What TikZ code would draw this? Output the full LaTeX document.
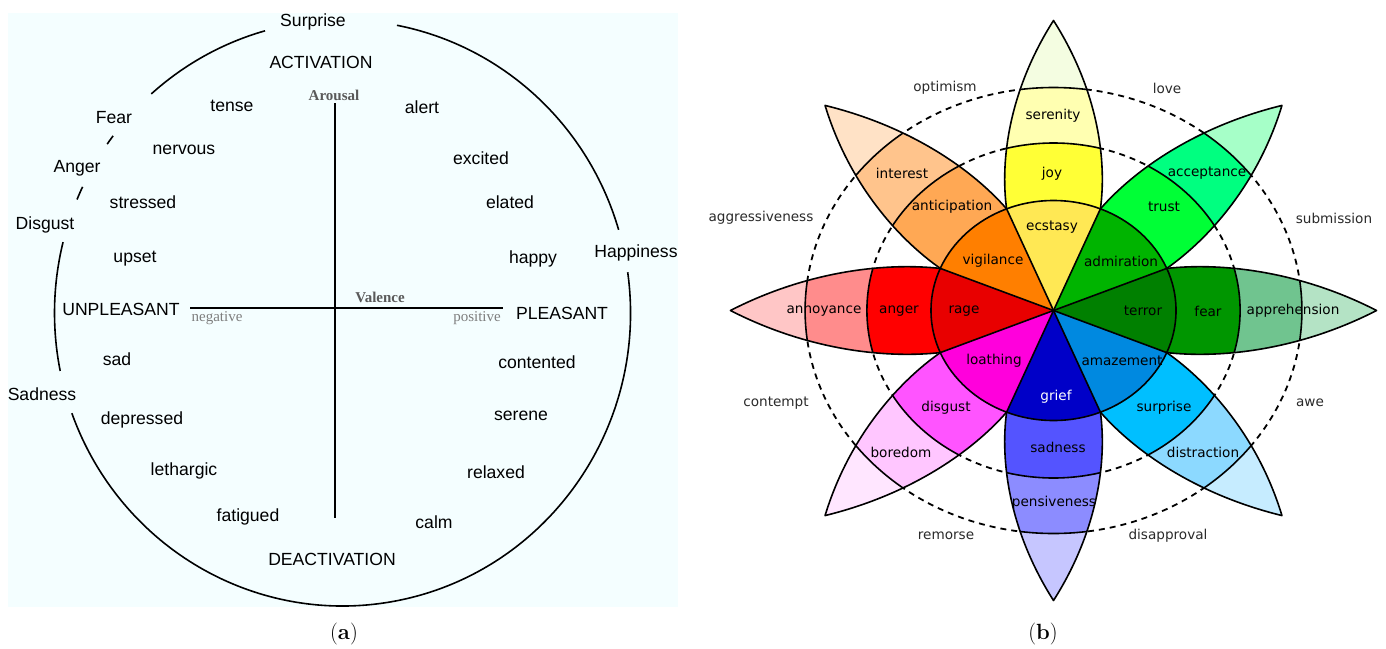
\documentclass[tikz,border=0pt]{standalone}
\usepackage{fontspec}
\newfontfamily\armfont{Liberation Sans}
\newfontfamily\sgfont{Liberation Serif}
\newfontfamily\wheelfont{DejaVu Sans}
\definecolor{bgA}{HTML}{F4FEFF}
\definecolor{axgray}{HTML}{5A5A5A}
\definecolor{lightgray}{HTML}{7E7E7E}
\definecolor{outtxt}{HTML}{2A2A2A}
% petal colours: sector / ring2 / ring3 / tip
\definecolor{pAa}{HTML}{FFE854}\definecolor{pAb}{HTML}{FFFF36}\definecolor{pAc}{HTML}{FFFFB1}\definecolor{pAd}{HTML}{F4FDE1}
\definecolor{pBa}{HTML}{00B400}\definecolor{pBb}{HTML}{00FF36}\definecolor{pBc}{HTML}{00FF80}\definecolor{pBd}{HTML}{A6FFC8}
\definecolor{pCa}{HTML}{008000}\definecolor{pCb}{HTML}{009600}\definecolor{pCc}{HTML}{70C48F}\definecolor{pCd}{HTML}{B4E3C5}
\definecolor{pDa}{HTML}{0089E0}\definecolor{pDb}{HTML}{00BFFF}\definecolor{pDc}{HTML}{8CD9FF}\definecolor{pDd}{HTML}{C6ECFF}
\definecolor{pEa}{HTML}{0000C8}\definecolor{pEb}{HTML}{5454FF}\definecolor{pEc}{HTML}{8C8CFF}\definecolor{pEd}{HTML}{C6C6FF}
\definecolor{pFa}{HTML}{FF00DC}\definecolor{pFb}{HTML}{FF54FF}\definecolor{pFc}{HTML}{FFC6FF}\definecolor{pFd}{HTML}{FFE6FF}
\definecolor{pGa}{HTML}{E80000}\definecolor{pGb}{HTML}{FF0000}\definecolor{pGc}{HTML}{FF8C8C}\definecolor{pGd}{HTML}{FFC6C6}
\definecolor{pHa}{HTML}{FF7F00}\definecolor{pHb}{HTML}{FFA854}\definecolor{pHc}{HTML}{FFC48C}\definecolor{pHd}{HTML}{FFE2C6}
\tikzset{
  lbl/.style={font=\armfont\fontsize{17.6}{20}\selectfont, inner sep=0pt},
  axlbl/.style={font=\sgfont\bfseries\fontsize{15}{17}\selectfont, text=axgray, inner sep=0pt},
  signlbl/.style={font=\sgfont\fontsize{15}{17}\selectfont, text=lightgray, inner sep=0pt},
  arcline/.style={line width=1.6pt, black},
  axisline/.style={line width=1.6pt, black},
  wlbl/.style={font=\wheelfont\fontsize{13.6}{16}\selectfont, inner sep=0pt, text=black},
  wout/.style={font=\wheelfont\fontsize{13.6}{16}\selectfont, inner sep=0pt, text=outtxt},
  petalline/.style={line width=1.6pt, black},
  dashline/.style={line width=1.8pt, black, dash pattern=on 6pt off 5pt},
  caplbl/.style={font=\fontsize{22}{26}\selectfont, inner sep=0pt}
}
\begin{document}
\begin{tikzpicture}[x=1pt,y=-1pt,line join=round]
\useasboundingbox (0,0) rectangle (1386,648);
\fill[white] (0,0) rectangle (1386,648);
% ---------------- panel (a)
\fill[bgA] (8,13) rectangle (678,607);
\coordinate (E) at (342.5,313);
\draw[arcline] (E) ++(-79.1:288 and 293) arc[start angle=-79.1,end angle=-16.5,x radius=288,y radius=293];
\draw[arcline] (E) ++(-8:288 and 293) arc[start angle=-8,end angle=160,x radius=288,y radius=293];
\draw[arcline] (E) ++(-191.4:288 and 293) arc[start angle=-191.4,end angle=-166,x radius=288,y radius=293];
\draw[arcline] (E) ++(-157.2:288 and 293) arc[start angle=-157.2,end angle=-154.5,x radius=288,y radius=293];
\draw[arcline] (E) ++(-144.8:288 and 293) arc[start angle=-144.8,end angle=-142.8,x radius=288,y radius=293];
\draw[arcline] (E) ++(-131.6:288 and 293) arc[start angle=-131.6,end angle=-105.6,x radius=288,y radius=293];
\coordinate (vt) at (335,103);
\coordinate (vb) at (335,518);
\coordinate (hl) at (190,308);
\coordinate (hr) at (503,308);
\draw[axisline] (vt) -- (vb);
\draw[axisline] (hl) -- (hr);
\node[lbl] (surprise) at (313,22) {Surprise};
\node[lbl] (activation) at (321,62) {ACTIVATION};
\node[axlbl] (arousal) at (334,95) {Arousal};
\node[lbl] (tense) at (232,106) {tense};
\node[lbl] (fear) at (114,118) {Fear};
\node[lbl] (nervous) at (184,150) {nervous};
\node[lbl] (anger) at (77,168) {Anger};
\node[lbl] (stressed) at (143,202) {stressed};
\node[lbl] (disgust) at (45,225) {Disgust};
\node[lbl] (upset) at (135,259) {upset};
\node[lbl] (unpleasant) at (121,309) {UNPLEASANT};
\node[axlbl] (valence) at (380,297) {Valence};
\node[signlbl] (negative) at (217,318) {negative};
\node[signlbl] (positive) at (477,318) {positive};
\node[lbl] (pleasant) at (562,313) {PLEASANT};
\node[lbl] (alert) at (422,107) {alert};
\node[lbl] (excited) at (481,158) {excited};
\node[lbl] (elated) at (510,202) {elated};
\node[lbl] (happy) at (533,259) {happy};
\node[lbl] (happiness) at (636,253) {Happiness};
\node[lbl] (contented) at (537,362) {contented};
\node[lbl] (serene) at (521,416) {serene};
\node[lbl] (relaxed) at (496,472) {relaxed};
\node[lbl] (calm) at (434,522) {calm};
\node[lbl] (deactivation) at (332,559) {DEACTIVATION};
\node[lbl] (fatigued) at (248,517) {fatigued};
\node[lbl] (lethargic) at (184,471) {lethargic};
\node[lbl] (depressed) at (142,420) {depressed};
\node[lbl] (sadness) at (42,394) {Sadness};
\node[lbl] (sad) at (117,359) {sad};
\node[caplbl] (capa) at (344,634) {(\textbf{a})};
% ---------------- panel (b)
\begin{scope}[shift={(1053.5,310.5)}, xscale=1.114]
  \draw[dashline] (0,0) circle[radius=167.5];
  \draw[dashline] (0,0) circle[radius=223];
  \foreach \ang/\pc in {90/A,45/B,0/C,-45/D,-90/E,-135/F,180/G,135/H}{
    \begin{scope}[rotate=\ang]
      \fill[p\pc d] (22.5:110) .. controls (150,48) and (220,40) .. (290,0) .. controls (220,-40) and (150,-48) .. (-22.5:110) -- cycle;
      \begin{scope}
        \clip (22.5:110) .. controls (150,48) and (220,40) .. (290,0) .. controls (220,-40) and (150,-48) .. (-22.5:110) -- cycle;
        \fill[p\pc c] (0,0) circle[radius=223];
        \fill[p\pc b] (0,0) circle[radius=167.5];
        \draw[petalline] (0,0) circle[radius=167.5];
        \draw[petalline] (0,0) circle[radius=223];
      \end{scope}
      \draw[petalline] (22.5:110) .. controls (150,48) and (220,40) .. (290,0) .. controls (220,-40) and (150,-48) .. (-22.5:110);
      \fill[p\pc a] (0,0) -- (22.5:110) arc[start angle=22.5,end angle=-22.5,radius=110] -- cycle;
    \end{scope}
  }
  \foreach \a in {22.5,67.5,...,337.5}{\draw[petalline] (0,0) -- (\a:110);}
  \draw[petalline] (0,0) circle[radius=110];
\end{scope}
% wheel labels
\node[wlbl] (ecstasy) at (1052,227) {ecstasy};
\node[wlbl] (joy) at (1052,174) {joy};
\node[wlbl] (serenity) at (1053,116) {serenity};
\node[wlbl] (admiration) at (1121,261) {admiration};
\node[wlbl] (trust) at (1164,207) {trust};
\node[wlbl] (acceptance) at (1207,173) {acceptance};
\node[wlbl] (terror) at (1143,311) {terror};
\node[wlbl] (fearb) at (1208,311) {fear};
\node[wlbl] (apprehension) at (1293,311) {apprehension};
\node[wlbl] (amazement) at (1122,361) {amazement};
\node[wlbl] (surpriseb) at (1164,408) {surprise};
\node[wlbl] (distraction) at (1203,452) {distraction};
\node[wlbl,text=white] (grief) at (1056,397) {grief};
\node[wlbl] (sadnessb) at (1058,447) {sadness};
\node[wlbl] (pensiveness) at (1054,503) {pensiveness};
\node[wlbl] (loathing) at (994,361) {loathing};
\node[wlbl] (disgustb) at (946,408) {disgust};
\node[wlbl] (boredom) at (901,452) {boredom};
\node[wlbl] (rage) at (964,311) {rage};
\node[wlbl] (angerb) at (899,311) {anger};
\node[wlbl] (annoyance) at (824,311) {annoyance};
\node[wlbl] (vigilance) at (993,261) {vigilance};
\node[wlbl] (anticipation) at (952,207) {anticipation};
\node[wlbl] (interest) at (902,173) {interest};
\node[wout] (optimism) at (945,88) {optimism};
\node[wout] (love) at (1167,88) {love};
\node[wout] (aggressiveness) at (761,218) {aggressiveness};
\node[wout] (submission) at (1334,218) {submission};
\node[wout] (contempt) at (776,403) {contempt};
\node[wout] (awe) at (1310,403) {awe};
\node[wout] (remorse) at (946,536) {remorse};
\node[wout] (disapproval) at (1168,536) {disapproval};
\node[caplbl] (capb) at (1043,634) {(\textbf{b})};
\end{tikzpicture}
\end{document}
